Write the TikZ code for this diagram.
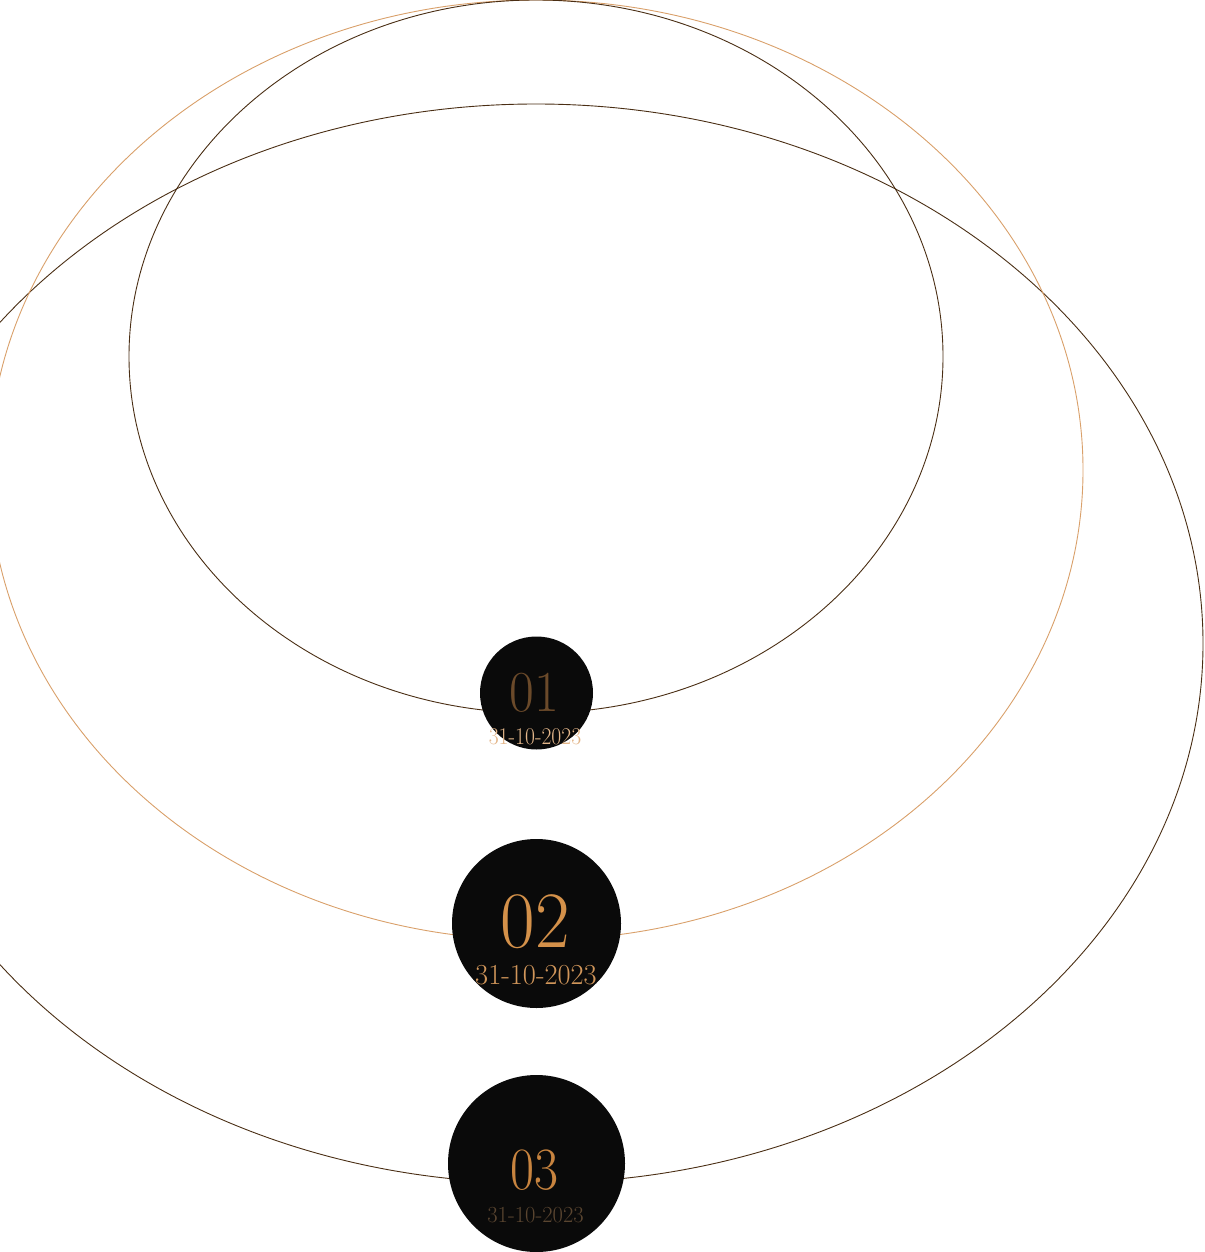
\documentclass[tikz,border=0pt]{standalone}
\usepackage{fontspec}
\usepackage{graphicx}
\definecolor{darkbrown}{HTML}{4A2E14}
\definecolor{tan}{HTML}{D9A06A}
\definecolor{disc}{HTML}{0A0A0A}
\definecolor{numA}{HTML}{6B4A2A}
\definecolor{dateA}{HTML}{E3B68A}
\definecolor{numB}{HTML}{D4914A}
\definecolor{dateB}{HTML}{D1965A}
\definecolor{numC}{HTML}{C8843F}
\definecolor{dateC}{HTML}{5A4530}
\tikzset{
  orbit/.style={line width=0.9pt},
  disc/.style={circle, fill=disc, inner sep=0pt, draw=none},
  lbl/.style={anchor=base, inner sep=0pt}
}
\newcommand{\fs}[1]{\fontsize{#1}{#1}\selectfont}
\begin{document}
\begin{tikzpicture}[x=1pt,y=-1pt]
\useasboundingbox (0,0) rectangle (1204,1252);
\clip (0,0) rectangle (1204,1252);
\draw[orbit, darkbrown] (536,643.5) ellipse [x radius=667, y radius=539.5];
\draw[orbit, tan] (536,470) ellipse [x radius=547, y radius=470];
\draw[orbit, darkbrown] (536,356.5) ellipse [x radius=407, y radius=356.5];
\node[disc, minimum size=113pt] (c1) at (536.5,693) {};
\node[disc, minimum size=169pt] (c2) at (536.5,923.5) {};
\node[disc, minimum size=177pt] (c3) at (536.5,1163.5) {};
\node[lbl, text=numA] (n1) at (534,711) {\fs{58}\scalebox{0.93}[1]{01}};
\node[lbl, text=dateA] (d1) at (535,744) {\fs{24}\scalebox{0.9}[1]{31-10-2023}};
\node[lbl, text=numB] (n2) at (535,947) {\fs{80}\scalebox{0.94}[1]{02}};
\node[lbl, text=dateB] (d2) at (536,984) {\fs{29}\scalebox{0.98}[1]{31-10-2023}};
\node[lbl, text=numC] (n3) at (534.5,1189) {\fs{60}\scalebox{0.87}[1]{03}};
\node[lbl, text=dateC] (d3) at (535.5,1222) {\fs{23}\scalebox{0.98}[1]{31-10-2023}};
\end{tikzpicture}
\end{document}
